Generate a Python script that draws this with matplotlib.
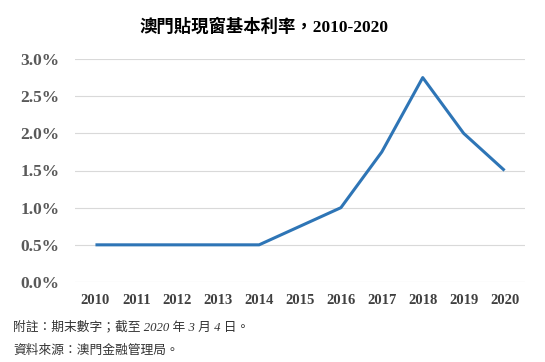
import matplotlib.pyplot as plt
from matplotlib.ticker import FuncFormatter

years = ['2010', '2011', '2012', '2013', '2014', '2015', '2016', '2017', '2018', '2019', '2020']
rate = [0.5, 0.5, 0.5, 0.5, 0.5, 0.75, 1.0, 1.75, 2.75, 2.0, 1.5]
y_ticks = [0, 0.5, 1.0, 1.5, 2.0, 2.5, 3.0]

title_txt = '澳門貼現窗基本利率，2010-2020'
note1 = '附註：期末數字；截至 2020 年 3 月 4 日。'
note2 = '資料來源：澳門金融管理局。'

cjk = ['Liberation Serif', 'Noto Sans CJK TC', 'DejaVu Sans']

fig = plt.figure(figsize=(5.45, 3.62), dpi=100)
ax = fig.add_axes([75 / 545, 1 - 282 / 362, 450 / 545, 223 / 362])

x = range(len(years))
ax.plot(x, rate, color='#2E75B6', lw=2.2, solid_capstyle='butt', zorder=3)

ax.set_xlim(-0.5, len(years) - 0.5)
ax.set_ylim(0, 3.0)
ax.set_yticks(y_ticks)
ax.yaxis.set_major_formatter(FuncFormatter(lambda v, p: f'{v:.1f}%'))
ax.set_xticks(list(x))
ax.set_xticklabels(years)
ax.grid(axis='y', color='#d9d9d9', lw=0.8)
for s in ax.spines.values():
    s.set_visible(False)
ax.tick_params(length=0)
ax.tick_params(axis='y', pad=11)
ax.tick_params(axis='x', pad=9)
for lab in ax.get_xticklabels():
    lab.set_fontfamily('Liberation Serif')
    lab.set_fontweight('bold')
    lab.set_fontsize(10.5)
    lab.set_color('#404040')
for lab in ax.get_yticklabels():
    lab.set_fontfamily('Liberation Serif')
    lab.set_fontweight('bold')
    lab.set_fontsize(12.5)
    lab.set_color('#595959')

fig.text(0.485, 1 - 27 / 362, title_txt, ha='center', va='center',
         family=['Liberation Serif', 'Noto Sans CJK TC'], fontweight='bold', fontsize=12.5)
fig.text(13 / 545, 1 - 327 / 362, note1, ha='left', va='center',
         family=cjk, fontsize=9.2, color='#333333', style='italic')
fig.text(13 / 545, 1 - 351 / 362, note2, ha='left', va='center',
         family=cjk, fontsize=9.2, color='#333333', style='italic')

fig.savefig('out.png', dpi=100)
